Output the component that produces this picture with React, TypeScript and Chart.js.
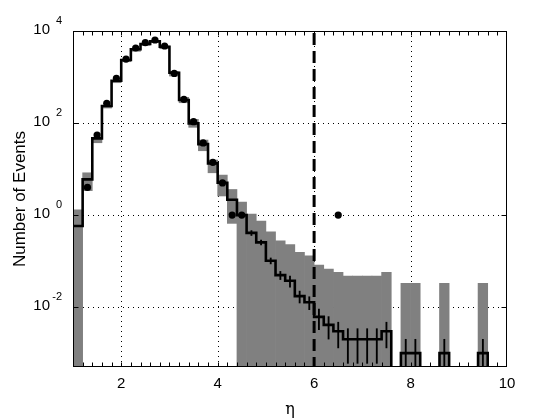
import React, { useEffect, useRef } from "react";
import { Chart, registerables } from "chart.js";

Chart.register(...registerables);

// ---- data ----
const binEdges = [1.0, 1.2, 1.4, 1.6, 1.8, 2.0, 2.2, 2.4, 2.6, 2.8, 3.0, 3.2, 3.4, 3.6, 3.8, 4.0, 4.2, 4.4, 4.6, 4.8, 5.0, 5.2, 5.4, 5.6, 5.8, 6.0, 6.2, 6.4, 6.6, 6.8, 7.0, 7.2, 7.4, 7.6, 7.8, 8.0, 8.2, 8.4, 8.6, 8.8, 9.0, 9.2, 9.4, 9.6, 9.8, 10.0];

const mcValues = [0.58, 5.97, 46.4, 234, 832, 2340, 4000, 5210, 5970, 4560, 1240, 316, 98.5, 34.9, 13.3, 5.03, 2.15, 1.0, 0.41, 0.255, 0.102, 0.0497, 0.0373, 0.0173, 0.0128, 0.00615, 0.00412, 0.003, 0.002, 0.002, 0.002, 0.002, 0.003, 0, 0.001, 0.001, 0, 0, 0.001, 0, 0, 0, 0.001, 0, 0];

const mcErrors = [0, 0, 0, 0, 0, 0, 0, 0, 0, 0, 0, 0, 0, 0, 0, 0, 0, 0, 0.05, 0.03, 0.015, 0.01, 0.01, 0.005, 0.004, 0.0029, 0.0021, 0.0017, 0.0014, 0.0014, 0.0014, 0.0014, 0.0017, 0, 0.001, 0.001, 0, 0, 0.001, 0, 0, 0, 0.001, 0, 0];

const bandLow = [0, 3.4, 37.3, 212, 752, 2150, 3620, 4890, 5570, 4120, 1050, 276, 80.7, 25, 8.3, 2.6, 0.66, 0, 0, 0, 0, 0, 0, 0, 0, 0, 0, 0, 0, 0, 0, 0, 0, 0, 0, 0, 0, 0, 0, 0, 0, 0, 0, 0, 0];

const bandHigh: (number | null)[] = [1.3, 8.3, 48, 240, 850, 2400, 4100, 5350, 6100, 4700, 1300, 362, 120, 42.7, 15.7, 7.4, 3.6, 1.92, 1.05, 0.74, 0.43, 0.275, 0.23, 0.155, 0.13, 0.082, 0.067, 0.057, 0.047, 0.047, 0.047, 0.047, 0.057, null, 0.033, 0.033, null, null, 0.033, null, null, null, 0.033, null, null];

const dataEta = [1.3, 1.5, 1.7, 1.9, 2.1, 2.3, 2.5, 2.7, 2.9, 3.1, 3.3, 3.5, 3.7, 3.9, 4.1, 4.3, 4.5, 6.5];
const dataCounts = [4, 55, 268, 940, 2460, 4270, 5570, 6370, 4720, 1200, 327, 107, 37, 14, 5, 1, 1, 1];

const cutEta = 6.0;

const xTickValues = [2, 4, 6, 8, 10];
const xGridValues = [2, 4, 6, 8];
const yTickValues = [1e-2, 1, 1e2, 1e4];
const yGridValues = [1e-2, 1, 1e2];

const X_MIN = 1;
const X_MAX = 10;
const Y_MIN = 5e-4;
const Y_MAX = 1e4;
const FLOOR = Y_MIN / 100; // stands in for zero on the log axis (off-scale)

const FONT = "'Liberation Sans', Arial, Helvetica, sans-serif";

const binCenters = binEdges.slice(0, -1).map((e, i) => (e + binEdges[i + 1]) / 2);
const pos = (v: number) => (v > 0 ? v : FLOOR);

const decorPlugin = {
  id: "decor",
  beforeDatasetsDraw(chart: any) {
    const { ctx, chartArea: a, scales } = chart;
    const x = scales.x, y = scales.y;
    ctx.save();
    ctx.strokeStyle = "#000";
    ctx.lineWidth = 1;
    ctx.setLineDash([1, 4]);
    ctx.beginPath();
    for (const v of xGridValues) {
      const px = Math.round(x.getPixelForValue(v)) + 0.5;
      ctx.moveTo(px, a.top);
      ctx.lineTo(px, a.bottom);
    }
    for (const v of yGridValues) {
      const py = Math.round(y.getPixelForValue(v)) + 0.5;
      ctx.moveTo(a.left, py);
      ctx.lineTo(a.right, py);
    }
    ctx.stroke();
    ctx.restore();
  },
  afterDraw(chart: any) {
    const { ctx, chartArea: a, scales } = chart;
    const x = scales.x, y = scales.y;
    ctx.save();
    ctx.strokeStyle = "#000";
    ctx.lineWidth = 1;
    ctx.setLineDash([]);
    const L = Math.round(a.left) + 0.5, R = Math.round(a.right) - 0.5;
    const T = Math.round(a.top) + 0.5, B = Math.round(a.bottom) - 0.5;
    ctx.strokeRect(L, T, R - L, B - T);
    ctx.beginPath();
    for (const v of binEdges) {
      if (v <= X_MIN || v >= X_MAX) continue;
      const px = Math.round(x.getPixelForValue(v)) + 0.5;
      ctx.moveTo(px, B);
      ctx.lineTo(px, B - 4);
      ctx.moveTo(px, T);
      ctx.lineTo(px, T + 4);
    }
    for (const v of yTickValues) {
      const py = Math.round(y.getPixelForValue(v)) + 0.5;
      ctx.moveTo(L, py);
      ctx.lineTo(L + 5, py);
      ctx.moveTo(R, py);
      ctx.lineTo(R - 5, py);
    }
    ctx.stroke();
    ctx.fillStyle = "#000";
    for (const v of yTickValues) {
      const py = y.getPixelForValue(v);
      const exp = Math.round(Math.log10(v));
      ctx.font = `15px ${FONT}`;
      ctx.textAlign = "right";
      ctx.textBaseline = "middle";
      ctx.fillText("10", a.left - 23, py - 1);
      ctx.font = `11px ${FONT}`;
      ctx.fillText(String(exp), a.left - 11, py - 10);
    }
    ctx.restore();
  },
};

export default function App() {
  const ref = useRef<HTMLCanvasElement | null>(null);
  useEffect(() => {
    if (!ref.current) return;
    const bandData = binCenters.map((c, i) => ({
      x: c,
      y: bandHigh[i] == null ? null : [pos(bandLow[i]), bandHigh[i] as number],
    }));
    const errData = binCenters.map((c, i) => ({
      x: c,
      y: mcErrors[i] > 0 ? [pos(mcValues[i] - mcErrors[i]), mcValues[i] + mcErrors[i]] : null,
    }));
    const histData = binEdges.map((e, i) => ({ x: e, y: pos(mcValues[Math.min(i, mcValues.length - 1)]) }));
    const pointData = dataEta.map((e, i) => ({ x: e, y: dataCounts[i] }));

    const chart = new Chart(ref.current, {
      type: "bar",
      data: {
        datasets: [
          {
            type: "bar",
            label: "MC band",
            data: bandData as any,
            backgroundColor: "#808080",
            borderWidth: 0,
            barPercentage: 1,
            categoryPercentage: 1,
            grouped: false,
            order: 5,
          },
          {
            type: "line",
            label: "MC",
            data: histData as any,
            stepped: true,
            borderColor: "#000",
            borderWidth: 2.6,
            pointRadius: 0,
            fill: false,
            order: 4,
          },
          {
            type: "bar",
            label: "MC error",
            data: errData as any,
            backgroundColor: "#000",
            borderWidth: 0,
            barPercentage: 1,
            categoryPercentage: 1,
            maxBarThickness: 1.2,
            grouped: false,
            order: 3,
          },
          {
            type: "line",
            label: "cut",
            data: [
              { x: cutEta, y: FLOOR },
              { x: cutEta, y: Y_MAX },
            ],
            borderColor: "#000",
            borderWidth: 3,
            borderDash: [12, 6],
            pointRadius: 0,
            fill: false,
            order: 2,
          },
          {
            type: "scatter",
            label: "Data",
            data: pointData,
            backgroundColor: "#000",
            borderColor: "#000",
            borderWidth: 0,
            pointRadius: 3.6,
            order: 1,
          },
        ],
      } as any,
      options: {
        responsive: false,
        animation: false,
        layout: { padding: { top: 31, right: 53, left: 0, bottom: 0 } },
        plugins: { legend: { display: false }, tooltip: { enabled: false } },
        scales: {
          x: {
            type: "linear",
            min: X_MIN,
            max: X_MAX,
            offset: false,
            afterBuildTicks: (s: any) => {
              s.ticks = xTickValues.map((v) => ({ value: v }));
            },
            afterFit: (s: any) => {
              s.height = 53;
            },
            grid: { display: false, drawTicks: false, offset: false },
            border: { display: false },
            ticks: {
              color: "#000",
              font: { family: FONT, size: 15 },
              padding: 8,
              maxRotation: 0,
              autoSkip: false,
            },
            title: {
              display: true,
              text: "η",
              color: "#000",
              font: { family: "'DejaVu Serif', serif", size: 16 },
              padding: { top: 0, bottom: 1 },
            },
          },
          y: {
            type: "logarithmic",
            min: Y_MIN,
            max: Y_MAX,
            afterBuildTicks: (s: any) => {
              s.ticks = yTickValues.map((v) => ({ value: v }));
            },
            afterFit: (s: any) => {
              s.width = 73;
            },
            grid: { display: false, drawTicks: false },
            border: { display: false },
            ticks: { display: false },
            title: {
              display: true,
              text: "Number of Events",
              color: "#000",
              font: { family: FONT, size: 17 },
              padding: { top: 10, bottom: 0 },
            },
          },
        },
      } as any,
      plugins: [decorPlugin],
    });
    return () => chart.destroy();
  }, []);

  return (
    <div style={{ position: "fixed", left: 0, top: 0, width: 560, height: 420, background: "#fff" }}>
      <canvas ref={ref} width={560} height={420} />
    </div>
  );
}
